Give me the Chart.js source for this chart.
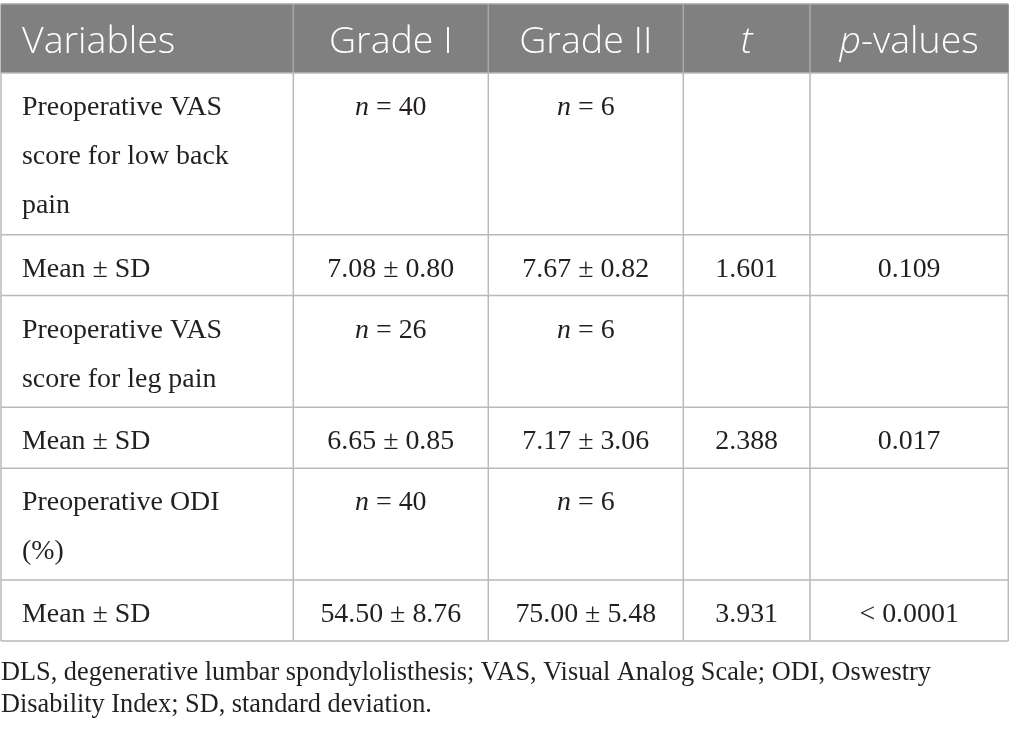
<!DOCTYPE html>
<html>
<head>
<meta charset="utf-8">
<script src="https://cdn.jsdelivr.net/npm/chart.js@4.4.1/dist/chart.umd.min.js"></script>
<style>
  html, body { margin: 0; padding: 0; background: #ffffff; }
  #wrap { width: 1009px; height: 731px; }
</style>
</head>
<body>
<div id="wrap"><canvas id="c" width="1009" height="731"></canvas></div>
<script>
// ---- table content ----
const columns = ['Variables', 'Grade I', 'Grade II', 't', 'p-values'];
const rowLabels = [
  ['Preoperative VAS', 'score for low back', 'pain'],
  ['Mean ± SD'],
  ['Preoperative VAS', 'score for leg pain'],
  ['Mean ± SD'],
  ['Preoperative ODI', '(%)'],
  ['Mean ± SD']
];
const gradeI  = ['n = 40', '7.08 ± 0.80', 'n = 26', '6.65 ± 0.85', 'n = 40', '54.50 ± 8.76'];
const gradeII = ['n = 6',  '7.67 ± 0.82', 'n = 6',  '7.17 ± 3.06', 'n = 6',  '75.00 ± 5.48'];
const tValues = ['', '1.601', '', '2.388', '', '3.931'];
const pValues = ['', '0.109', '', '0.017', '', '< 0.0001'];
const footnote = [
  'DLS, degenerative lumbar spondylolisthesis; VAS, Visual Analog Scale; ODI, Oswestry',
  'Disability Index; SD, standard deviation.'
];

// ---- layout (scale units) ----
const colEdges = [1, 293.3, 488.3, 683.3, 810, 1008.3];
const rowEdges = [4, 73, 234.7, 295.5, 407.2, 468.3, 580, 641];
const layout = {
  headerBaseline: 53, firstBaseline: 42, lineGap: 49, leftPad: 21,
  footBaselines: [680, 712], footX: 1,
  headerBg: '#808080', headerTop: '#a3a3a3', headerSep: '#a8a8a8',
  grid: '#b9b9b9', ink: '#231f20',
  headFont: '300 37.5px "Open Sans", sans-serif',
  headItalic: 'italic 300 37.5px "Open Sans", sans-serif',
  bodyFont: '27.9px "Liberation Serif", "Times New Roman", serif',
  bodyItalic: 'italic 27.9px "Liberation Serif", "Times New Roman", serif',
  footFont: '26.3px "Liberation Serif", "Times New Roman", serif'
};

// draw a sequence of [text, font] runs centered or left aligned
function drawRuns(ctx, runs, x, y, align) {
  let total = 0;
  runs.forEach(r => { ctx.font = r[1]; total += ctx.measureText(r[0]).width; });
  let cx = align === 'center' ? x - total / 2 : x;
  ctx.textAlign = 'left';
  runs.forEach(r => { ctx.font = r[1]; ctx.fillText(r[0], cx, y); cx += ctx.measureText(r[0]).width; });
}
function bodyRuns(s) {
  if (s.startsWith('n ')) return [['n', layout.bodyItalic], [s.slice(1), layout.bodyFont]];
  return [[s, layout.bodyFont]];
}
function headRuns(s) {
  if (s === 't') return [['t', layout.headItalic]];
  if (s.startsWith('p-')) return [['p', layout.headItalic], [s.slice(1), layout.headFont]];
  return [[s, layout.headFont]];
}

const tablePlugin = {
  id: 'tablePlugin',
  afterDraw(chart) {
    const ctx = chart.ctx;
    const X = v => chart.scales.x.getPixelForValue(v);
    const Y = v => chart.scales.y.getPixelForValue(v);
    ctx.save();
    ctx.textBaseline = 'alphabetic';

    // header background
    ctx.fillStyle = layout.headerBg;
    ctx.fillRect(X(colEdges[0]) - 0.5, Y(rowEdges[0]), X(colEdges[colEdges.length - 1]) - X(colEdges[0]) + 1, Y(rowEdges[1]) - Y(rowEdges[0]));
    ctx.strokeStyle = layout.headerTop;
    ctx.lineWidth = 1.5;
    ctx.beginPath();
    ctx.moveTo(X(colEdges[0]), Y(rowEdges[0])); ctx.lineTo(X(colEdges[colEdges.length - 1]), Y(rowEdges[0]));
    ctx.stroke();

    // header separators
    ctx.strokeStyle = layout.headerSep;
    ctx.beginPath();
    for (let i = 1; i < colEdges.length - 1; i++) {
      ctx.moveTo(X(colEdges[i]), Y(rowEdges[0])); ctx.lineTo(X(colEdges[i]), Y(rowEdges[1]));
    }
    ctx.stroke();

    // body grid
    ctx.strokeStyle = layout.grid;
    ctx.lineWidth = 1.5;
    ctx.beginPath();
    for (let j = 1; j < rowEdges.length; j++) {
      ctx.moveTo(X(colEdges[0]), Y(rowEdges[j])); ctx.lineTo(X(colEdges[colEdges.length - 1]), Y(rowEdges[j]));
    }
    for (let i = 0; i < colEdges.length; i++) {
      ctx.moveTo(X(colEdges[i]), Y(rowEdges[1])); ctx.lineTo(X(colEdges[i]), Y(rowEdges[rowEdges.length - 1]));
    }
    ctx.stroke();

    // header text
    ctx.fillStyle = '#ffffff';
    columns.forEach((c, i) => {
      const runs = headRuns(c);
      if (i === 0) drawRuns(ctx, runs, X(colEdges[0] + layout.leftPad), Y(layout.headerBaseline), 'left');
      else drawRuns(ctx, runs, (X(colEdges[i]) + X(colEdges[i + 1])) / 2, Y(layout.headerBaseline), 'center');
    });

    // body text
    ctx.fillStyle = layout.ink;
    const cols = [gradeI, gradeII, tValues, pValues];
    rowLabels.forEach((lines, r) => {
      const top = rowEdges[r + 1];
      lines.forEach((ln, k) => {
        drawRuns(ctx, [[ln, layout.bodyFont]], X(colEdges[0] + layout.leftPad), Y(top + layout.firstBaseline + k * layout.lineGap), 'left');
      });
      cols.forEach((arr, ci) => {
        const s = arr[r];
        if (!s) return;
        drawRuns(ctx, bodyRuns(s), (X(colEdges[ci + 1]) + X(colEdges[ci + 2])) / 2, Y(top + layout.firstBaseline), 'center');
      });
    });

    // footnote
    footnote.forEach((ln, k) => {
      drawRuns(ctx, [[ln, layout.footFont]], X(layout.footX), Y(layout.footBaselines[k]), 'left');
    });
    ctx.restore();
  }
};

new Chart(document.getElementById('c'), {
  type: 'scatter',
  data: { datasets: [] },
  options: {
    responsive: false,
    animation: false,
    devicePixelRatio: 1,
    layout: { padding: 0 },
    plugins: { legend: { display: false }, tooltip: { enabled: false }, title: { display: false } },
    scales: {
      x: { type: 'linear', min: 0, max: 1009, display: false },
      y: { type: 'linear', min: 0, max: 731, reverse: true, display: false }
    }
  },
  plugins: [tablePlugin]
});
</script>
</body>
</html>
